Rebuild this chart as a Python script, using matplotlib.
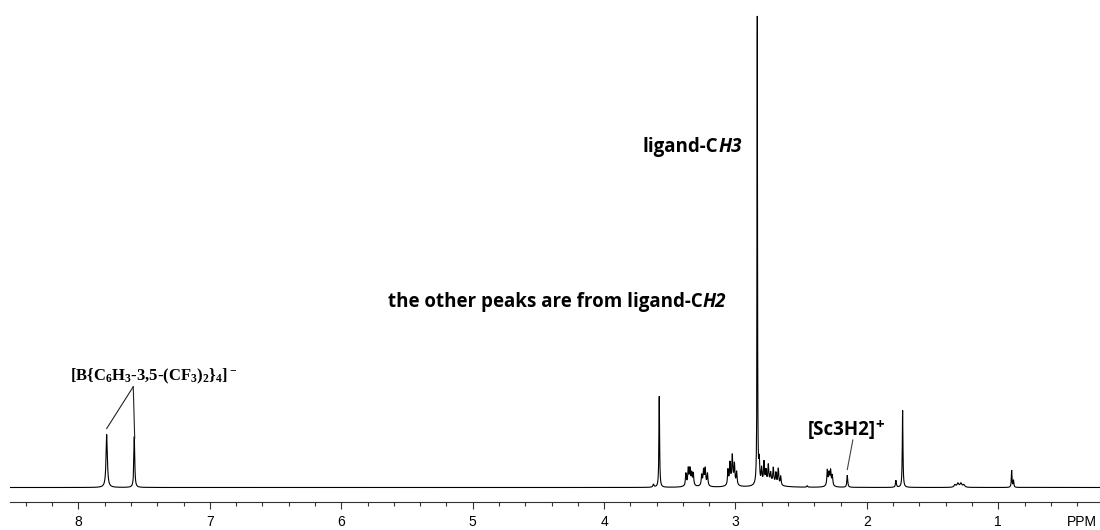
import numpy as np
import matplotlib
matplotlib.use("Agg")
import matplotlib.pyplot as plt
from matplotlib.ticker import FixedLocator, FixedFormatter, MultipleLocator

# ---- 1H NMR peak list: chemical shift (ppm), height (a.u.), half-width (ppm)
shift_ppm = [7.785, 7.575,
             3.624, 3.580,
             3.377, 3.359, 3.346, 3.333, 3.321,
             3.257, 3.243, 3.230, 3.213,
             3.057, 3.042, 3.024, 3.008, 2.991,
             2.834,
             2.819, 2.801, 2.783, 2.768, 2.750, 2.732, 2.712, 2.692, 2.674, 2.656,
             2.454,
             2.301, 2.288, 2.276, 2.263,
             2.149,
             1.779, 1.728,
             1.330, 1.307, 1.284, 1.262,
             0.898, 0.884]
peak_height = [53, 51,
               3, 91,
               12, 15, 14, 11, 12,
               10, 13, 15, 12,
               15, 20, 25, 19, 13,
               468,
               22, 15, 21, 12, 17, 9, 15, 11, 16, 9,
               1.5,
               15, 10, 13, 10,
               12,
               7, 77,
               2.5, 4, 4, 2.5,
               17, 7]
half_width = [0.006, 0.004,
              0.005, 0.003,
              0.004, 0.004, 0.004, 0.004, 0.004,
              0.004, 0.004, 0.004, 0.004,
              0.004, 0.004, 0.004, 0.004, 0.004,
              0.002,
              0.004, 0.004, 0.004, 0.004, 0.004, 0.004, 0.004, 0.004, 0.004, 0.004,
              0.004,
              0.004, 0.004, 0.004, 0.004,
              0.004,
              0.004, 0.003,
              0.008, 0.008, 0.008, 0.008,
              0.003, 0.003]

# broad humps underneath the CH2 multiplets
hump_ppm = [3.350, 3.238, 3.025, 2.740, 2.283]
hump_height = [4, 4, 6, 5, 4]
hump_width = [0.022, 0.018, 0.022, 0.060, 0.018]

tick_values = [8, 7, 6, 5, 4, 3, 2, 1, 0.363]
tick_labels = ["8", "7", "6", "5", "4", "3", "2", "1", "PPM"]

SANS = "Open Sans"
SERIF = "Liberation Serif"
LABEL_SIZE = 13.5

plt.rcParams["font.family"] = ["Liberation Sans", "DejaVu Sans"]
plt.rcParams["mathtext.fontset"] = "custom"
plt.rcParams["mathtext.rm"] = "Liberation Serif:bold"
plt.rcParams["mathtext.it"] = "Liberation Serif:italic:bold"
plt.rcParams["mathtext.bf"] = "Liberation Serif:bold"

fig = plt.figure(figsize=(11, 5.3), dpi=100)
ax = fig.add_axes([10 / 1100, 27.7 / 530, 1090 / 1100, 502.3 / 530])

# spectrum as a sum of Lorentzian lines
grid = np.union1d(np.linspace(0.1, 8.6, 42501), shift_ppm)
spec = np.zeros_like(grid)
for p, h, w in zip(shift_ppm + hump_ppm, peak_height + hump_height,
                   half_width + hump_width):
    spec += h * w ** 2 / ((grid - p) ** 2 + w ** 2)
ax.plot(grid, spec, color="black", lw=0.8, solid_joinstyle="miter")

ax.set_xlim(8.521, 0.226)
ax.set_ylim(-14.8, 487.5)

for s in ("left", "right", "top"):
    ax.spines[s].set_visible(False)
ax.spines["bottom"].set_color("#333333")
ax.spines["bottom"].set_linewidth(0.8)
ax.set_yticks([])

ax.xaxis.set_major_locator(FixedLocator(tick_values))
ax.xaxis.set_major_formatter(FixedFormatter(tick_labels))
ax.xaxis.set_minor_locator(MultipleLocator(0.2))
ax.tick_params(axis="x", which="major", length=5, width=0.8, color="#333333",
               labelsize=10, pad=4, direction="out")
ax.tick_params(axis="x", which="minor", length=3, width=0.8, color="#333333",
               direction="out")
ax.xaxis.get_major_ticks()[-1].tick1line.set_visible(False)

# ---- annotations
barf = r"[B{C$_6$H$_3$-3,5-(CF$_3$)$_2$}$_4$]$^-$"
ax.text(8.065, 107.5, barf, family=SERIF, weight="bold", fontsize=12,
        ha="left", va="baseline")
apex = (7.583, 100.8)
ax.plot([apex[0], shift_ppm[0]], [apex[1], peak_height[0] + 6],
        color="#222222", lw=0.8)
ax.plot([apex[0], shift_ppm[1] - 0.003], [apex[1], peak_height[1] - 2],
        color="#222222", lw=0.8)

def sans_label(x, y, upright, italic):
    t = ax.text(x, y, upright, family=SANS, weight="bold", fontsize=LABEL_SIZE,
                ha="left", va="baseline")
    ax.annotate(italic, xy=(1, 0), xycoords=t, family=SANS, weight="bold",
                style="italic", fontsize=LABEL_SIZE, ha="left", va="bottom")

sans_label(3.705, 335.5, "ligand-C", "H3")
sans_label(5.645, 180.8, "the other peaks are from ligand-C", "H2")

sc = ax.text(2.450, 52.5, "[Sc3H2]", family=SANS, weight="bold",
             fontsize=LABEL_SIZE, ha="left", va="baseline")
ax.annotate("+", xy=(1, 0), xycoords=sc, xytext=(-0.5, 5.5),
            textcoords="offset points", family=SANS, weight="bold",
            fontsize=11, ha="left", va="bottom")
sc_idx = shift_ppm.index(2.149)
ax.plot([2.107, shift_ppm[sc_idx]], [47.5, peak_height[sc_idx] + 6],
        color="#444444", lw=0.8)

fig.savefig("out.png", dpi=100)
